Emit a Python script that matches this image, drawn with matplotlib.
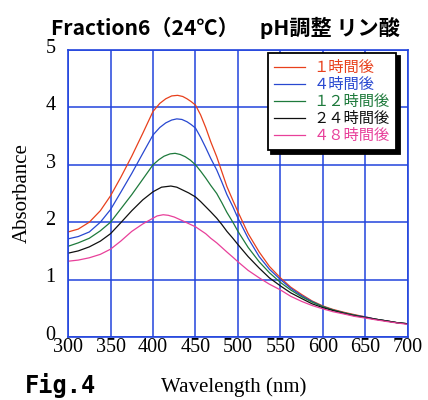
import numpy as np
import matplotlib
matplotlib.use('Agg')
import matplotlib.pyplot as plt
from matplotlib.transforms import ScaledTranslation

# Spektra, Fraction6 (24C), pH-justert med fosforsyre

wl_1h = [300, 312, 325, 338, 350, 362, 375, 388, 400, 408, 415, 422, 429, 435, 440, 445, 450, 456, 462, 468, 475,
         481, 487, 494, 500, 512, 525, 537, 550, 562, 575, 587, 600, 612, 625, 637, 650, 662, 675, 687, 700]
abs_1h = [1.83, 1.88, 2.00, 2.20, 2.46, 2.78, 3.15, 3.55, 3.93, 4.07, 4.15, 4.20, 4.21, 4.19, 4.15, 4.10, 4.04, 3.87,
          3.65, 3.40, 3.14, 2.88, 2.62, 2.38, 2.18, 1.80, 1.48, 1.23, 1.03, 0.87, 0.74, 0.63, 0.54, 0.48, 0.43, 0.39,
          0.35, 0.31, 0.28, 0.25, 0.23]

wl_4h = [300, 312, 325, 338, 350, 362, 375, 388, 400, 408, 415, 422, 428, 434, 440, 445, 450, 456, 462, 468, 475,
         481, 487, 494, 500, 512, 525, 537, 550, 562, 575, 587, 600, 612, 625, 637, 650, 662, 675, 687, 700]
abs_4h = [1.71, 1.75, 1.83, 2.00, 2.22, 2.52, 2.85, 3.20, 3.52, 3.65, 3.73, 3.78, 3.80, 3.79, 3.75, 3.70, 3.64, 3.48,
          3.30, 3.11, 2.91, 2.70, 2.48, 2.27, 2.07, 1.72, 1.40, 1.18, 1.00, 0.85, 0.72, 0.62, 0.53, 0.47, 0.42, 0.38,
          0.35, 0.31, 0.28, 0.25, 0.23]

wl_12h = [300, 312, 325, 338, 350, 362, 375, 388, 400, 407, 413, 420, 426, 432, 438, 444, 450, 456, 462, 468, 475,
          481, 487, 494, 500, 512, 525, 537, 550, 562, 575, 587, 600, 612, 625, 637, 650, 662, 675, 687, 700]
abs_12h = [1.58, 1.64, 1.72, 1.85, 2.00, 2.23, 2.48, 2.75, 3.00, 3.09, 3.15, 3.19, 3.20, 3.18, 3.14, 3.08, 3.00, 2.89,
           2.77, 2.64, 2.50, 2.34, 2.17, 2.00, 1.84, 1.56, 1.31, 1.12, 0.95, 0.82, 0.70, 0.61, 0.53, 0.47, 0.42, 0.38,
           0.34, 0.31, 0.28, 0.25, 0.23]

wl_24h = [300, 312, 325, 338, 350, 362, 375, 388, 400, 410, 421, 428, 435, 442, 450, 456, 462, 468, 475,
          481, 487, 494, 500, 512, 525, 537, 550, 562, 575, 587, 600, 612, 625, 637, 650, 662, 675, 687, 700]
abs_24h = [1.46, 1.50, 1.57, 1.67, 1.80, 1.99, 2.20, 2.39, 2.53, 2.61, 2.63, 2.61, 2.56, 2.51, 2.44, 2.36, 2.27, 2.18,
           2.07, 1.96, 1.84, 1.72, 1.61, 1.40, 1.20, 1.03, 0.89, 0.77, 0.67, 0.58, 0.51, 0.46, 0.41, 0.37, 0.34, 0.31,
           0.28, 0.25, 0.23]

wl_48h = [300, 312, 325, 338, 350, 362, 375, 388, 400, 405, 412, 418, 425, 437, 450, 456, 462, 468, 475,
          481, 487, 494, 500, 512, 525, 537, 550, 562, 575, 587, 600, 612, 625, 637, 650, 662, 675, 687, 700]
abs_48h = [1.32, 1.34, 1.38, 1.44, 1.53, 1.67, 1.84, 1.97, 2.07, 2.11, 2.13, 2.12, 2.09, 2.01, 1.92, 1.86, 1.80, 1.72,
           1.64, 1.56, 1.48, 1.39, 1.31, 1.16, 1.03, 0.92, 0.82, 0.71, 0.62, 0.55, 0.49, 0.44, 0.40, 0.36, 0.33, 0.30,
           0.27, 0.245, 0.22]

labels = ['１時間後', '４時間後', '１２時間後', '２４時間後', '４８時間後']
colors = ['#e8401c', '#2848d0', '#1e7a3c', '#101010', '#e8409a']
series = [(wl_1h, abs_1h), (wl_4h, abs_4h), (wl_12h, abs_12h), (wl_24h, abs_24h), (wl_48h, abs_48h)]

xticks = [300, 350, 400, 450, 500, 550, 600, 650, 700]
yticks = [0, 1, 2, 3, 4, 5]

jp = ['Noto Sans CJK JP', 'DejaVu Sans']
serif = ['Liberation Serif', 'DejaVu Serif']
gridblue = '#2244dd'

fig = plt.figure(figsize=(4.28, 4.0), dpi=100)
ax = fig.add_axes([0.159, 0.1575, 0.794, 0.7175])

for (x, y), lab, c in zip(series, labels, colors):
    ax.plot(x, y, color=c, lw=0.9, label=lab)

ax.set_xlim(300, 700)
ax.set_ylim(0, 5)
ax.set_xticks(xticks)
ax.set_yticks(yticks)
ax.set_xticklabels([str(t) for t in xticks], family=serif, fontsize=14.5)
ax.set_yticklabels([str(t) for t in yticks], family=serif, fontsize=14.5)
ax.tick_params(length=0)
ax.tick_params(axis='x', pad=1)
ax.tick_params(axis='y', pad=9)
# y-tallene sitter litt over linjene
up = ScaledTranslation(0, 3 / 72, fig.dpi_scale_trans)
for lbl in ax.get_yticklabels():
    lbl.set_transform(lbl.get_transform() + up)
ax.grid(True, color=gridblue, lw=1.1)
for s in ax.spines.values():
    s.set_color(gridblue)
    s.set_linewidth(1.2)

ax.set_ylabel('Absorbance', family=serif, fontsize=15, labelpad=10)
fig.text(0.545, 0.033, 'Wavelength (nm)', family=serif, fontsize=15, ha='center', va='center')
fig.text(0.058, 0.004, 'Fig.4', family=['DejaVu Sans Mono'], weight='bold', fontsize=17, ha='left', va='bottom')
fig.text(0.526, 0.93, 'Fraction6（24℃）　pH調整 リン酸', family=jp, weight='bold', fontsize=15.2,
         ha='center', va='center')

leg = ax.legend(loc='upper left', bbox_to_anchor=(0.588, 0.99), prop={'family': jp, 'size': 11},
                labelcolor='linecolor', handlelength=2.0, handletextpad=0.6, labelspacing=0.0,
                borderpad=0.4, borderaxespad=0, fancybox=False, framealpha=1,
                shadow={'color': 'black', 'alpha': 1, 'ox': 2.5, 'oy': -2.5})
leg.get_frame().set_edgecolor('black')
leg.get_frame().set_linewidth(1.3)

fig.savefig('out.png', dpi=100)
